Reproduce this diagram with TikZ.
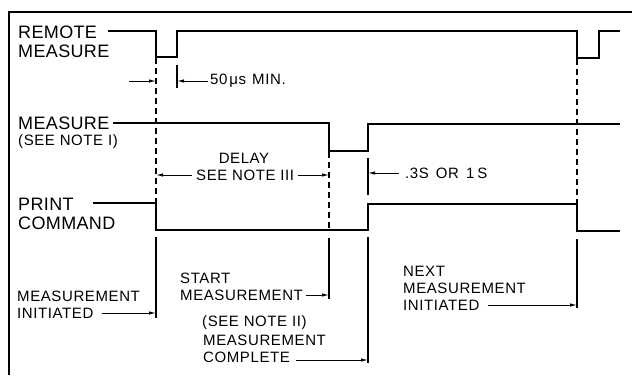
\documentclass[tikz,border=0pt]{standalone}
\usepackage{fontspec}
\setmainfont{Liberation Sans}
\newfontfamily\labfont[LetterSpace=4]{Liberation Sans}
\newfontfamily\bigfont[LetterSpace=2]{Liberation Sans}
\usetikzlibrary{arrows.meta}
\begin{document}
\begin{tikzpicture}[x=1pt,y=-1pt,
  sig/.style={line width=1.3pt,line join=miter},
  guide/.style={line width=1.1pt,dash pattern=on 6pt off 4pt},
  solidv/.style={line width=1.1pt},
  arr/.style={line width=0.9pt,-{Latex[length=7pt,width=3.4pt]}},
  big/.style={font=\bigfont\fontsize{18}{19}\selectfont,inner sep=0pt,anchor=west,align=left},
  small/.style={font=\labfont\fontsize{15}{17}\selectfont,inner sep=0pt,anchor=west,align=left}]
\useasboundingbox (0,0) rectangle (632,375);
% frame
\draw[line width=1.1pt] (632,12) -- (9,12) -- (9,375);
% labels
\node[big] (lrm1) at (18,32) {REMOTE};
\node[big] (lrm2) at (18,51) {MEASURE};
\node[big] (lm1) at (18,123) {MEASURE};
\node[small] (lm2) at (18,142) {(SEE NOTE I)};
\node[big] (lp1) at (18,204) {PRINT};
\node[big] (lp2) at (18,223) {COMMAND};
% coordinates
\coordinate (r0) at (108,31);
\coordinate (m0) at (113,123);
\coordinate (p0) at (93,203);
% signals
\draw[sig] (r0) -- (156,31) -- (156,57) -- (177,57) -- (177,31) -- (577,31) -- (577,58) -- (599,58) -- (599,31) -- (620,31);
\draw[sig] (m0) -- (329,123) -- (329,151) -- (368,151) -- (368,124) -- (620,124);
\draw[sig] (p0) -- (156,203) -- (156,230) -- (368,230) -- (368,204) -- (577,204) -- (577,231) -- (620,231);
% guides
\coordinate (g1a) at (156,58); \coordinate (g1b) at (156,203);
\coordinate (g2a) at (329,152); \coordinate (g2b) at (329,230);
\coordinate (g4a) at (577,59); \coordinate (g4b) at (577,204);
\draw[guide] (g1a) -- (g1b);
\draw[guide] (g2a) -- (g2b);
\draw[guide] (g4a) -- (g4b);
% solid verticals below print
\coordinate (s1a) at (156,237); \coordinate (s1b) at (156,318);
\coordinate (s2a) at (329,238); \coordinate (s2b) at (329,299);
\coordinate (s3a) at (368,237); \coordinate (s3b) at (368,363);
\coordinate (s4a) at (577,239); \coordinate (s4b) at (577,308);
\draw[solidv] (s1a) -- (s1b);
\draw[solidv] (s2a) -- (s2b);
\draw[solidv] (s3a) -- (s3b);
\draw[solidv] (s4a) -- (s4b);
% ticks
\coordinate (t1a) at (177,65); \coordinate (t1b) at (177,88);
\coordinate (t2a) at (368,158); \coordinate (t2b) at (368,195);
\draw[solidv] (t1a) -- (t1b);
\draw[solidv] (t2a) -- (t2b);
% 50 us
\coordinate (a1s) at (129,81); \coordinate (a1e) at (156,81);
\draw[arr] (a1s) -- (a1e);
\node[small] (l50) at (210,81) {50\hspace{2pt}μs\hspace{6pt}MIN.};
\coordinate (a2e) at (177,81);
\draw[arr] (l50.west) ++(-2,0) coordinate (a2s) -- (a2e);
% delay
\node[small,anchor=center] (ldel1) at (244,158) {DELAY};
\node[small] (ldel2) at (196,175) {SEE NOTE III};
\coordinate (d1e) at (156,175); \coordinate (d2e) at (329,175);
\draw[arr] (ldel2.west) ++(-4,0) -- (d1e);
\draw[arr] (ldel2.east) ++(4,0) -- (d2e);
% .3S
\node[small] (l3s) at (405,173) {.3S\hspace{7pt}OR\hspace{7pt}1\hspace{3pt}S};
\coordinate (e3) at (368,173);
\draw[arr] (l3s.west) ++(-6,0) -- (e3);
% bottom labels
\node[small] (lmi1) at (17,296) {MEASUREMENT};
\node[small] (lmi2) at (17,313) {INITIATED};
\coordinate (e4) at (156,313);
\draw[arr] (lmi2.east) ++(8,0) -- (e4);
\node[small] (lsm1) at (180,278) {START};
\node[small] (lsm2) at (180,295) {MEASUREMENT};
\coordinate (e5) at (329,295);
\draw[arr] (lsm2.east) ++(3,0) -- (e5);
\node[small] (lmc1) at (202,323) {(SEE NOTE II)};
\node[small] (lmc2) at (203,340) {MEASUREMENT};
\node[small] (lmc3) at (203,357) {COMPLETE};
\coordinate (e6) at (368,360);
\draw[arr] (lmc3.east) ++(6,3) -- (e6);
\node[small] (lnm1) at (403,271) {NEXT};
\node[small] (lnm2) at (403,288) {MEASUREMENT};
\node[small] (lnm3) at (403,305) {INITIATED};
\coordinate (e7) at (577,305);
\draw[arr] (lnm3.east) ++(8,0) -- (e7);
\end{tikzpicture}
\end{document}
